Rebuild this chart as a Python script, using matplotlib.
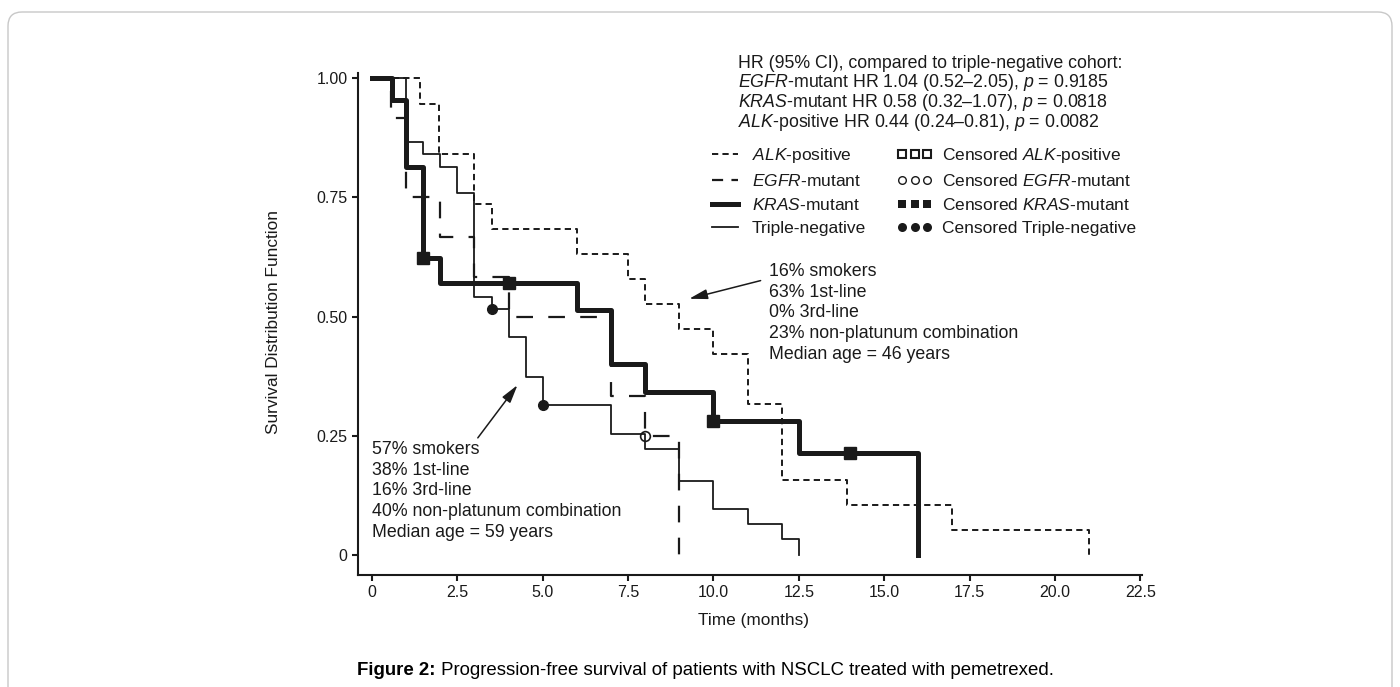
import matplotlib
matplotlib.use('Agg')
import matplotlib.pyplot as plt
from matplotlib.lines import Line2D
from matplotlib.patches import FancyBboxPatch

plt.rcParams['font.family'] = ['Liberation Sans', 'DejaVu Sans']
plt.rcParams['mathtext.fontset'] = 'custom'
plt.rcParams['mathtext.rm'] = 'Liberation Sans'
plt.rcParams['mathtext.it'] = 'Liberation Sans:italic'
plt.rcParams['mathtext.bf'] = 'Liberation Sans:bold'
plt.rcParams['lines.scale_dashes'] = False

# survival curves (time in months, survival fraction)
alk_t = [0, 1.4, 1.95, 3.0, 3.5, 6.0, 7.5, 8.0, 9.0, 10.0, 11.0, 12.0, 13.9, 17.0, 21.0]
alk_s = [1.0, 0.947, 0.842, 0.737, 0.684, 0.632, 0.579, 0.526, 0.474, 0.421, 0.316, 0.158, 0.105, 0.053, 0.0]

egfr_t = [0, 0.55, 1.0, 2.0, 3.0, 4.0, 7.0, 8.0, 9.0]
egfr_s = [1.0, 0.917, 0.75, 0.667, 0.583, 0.5, 0.333, 0.25, 0.0]
egfr_cens_t = [8.0]
egfr_cens_s = [0.25]

kras_t = [0, 0.6, 1.0, 1.5, 2.0, 6.0, 7.0, 8.0, 10.0, 12.5, 16.0]
kras_s = [1.0, 0.955, 0.813, 0.623, 0.570, 0.514, 0.400, 0.342, 0.281, 0.214, 0.0]
kras_cens_t = [1.5, 4.0, 10.0, 14.0]
kras_cens_s = [0.623, 0.570, 0.281, 0.214]

tn_t = [0, 1.0, 1.5, 2.0, 2.5, 3.0, 3.5, 4.0, 4.5, 5.0, 7.0, 8.0, 9.0, 10.0, 11.0, 12.0, 12.5]
tn_s = [1.0, 0.866, 0.841, 0.813, 0.759, 0.541, 0.516, 0.457, 0.373, 0.314, 0.254, 0.222, 0.155, 0.097, 0.065, 0.034, 0.0]
tn_cens_t = [3.5, 5.0]
tn_cens_s = [0.516, 0.314]

xticks = [0, 2.5, 5.0, 7.5, 10.0, 12.5, 15.0, 17.5, 20.0, 22.5]
xticklabels = ['0', '2.5', '5.0', '7.5', '10.0', '12.5', '15.0', '17.5', '20.0', '22.5']
yticks = [0, 0.25, 0.5, 0.75, 1.0]
yticklabels = ['0', '0.25', '0.50', '0.75', '1.00']

hr_lines = ["HR (95% CI), compared to triple-negative cohort:",
            "$\\mathit{EGFR}$-mutant HR 1.04 (0.52\u20132.05), $\\mathit{p}$ = 0.9185",
            "$\\mathit{KRAS}$-mutant HR 0.58 (0.32\u20131.07), $\\mathit{p}$ = 0.0818",
            "$\\mathit{ALK}$-positive HR 0.44 (0.24\u20130.81), $\\mathit{p}$ = 0.0082"]
alk_note = "16% smokers\n63% 1st-line\n0% 3rd-line\n23% non-platunum combination\nMedian age = 46 years"
tn_note = "57% smokers\n38% 1st-line\n16% 3rd-line\n40% non-platunum combination\nMedian age = 59 years"

line_labels = ['$\\mathit{ALK}$-positive', '$\\mathit{EGFR}$-mutant', '$\\mathit{KRAS}$-mutant', 'Triple-negative']
cens_labels = ['Censored $\\mathit{ALK}$-positive', 'Censored $\\mathit{EGFR}$-mutant',
               'Censored $\\mathit{KRAS}$-mutant', 'Censored Triple-negative']

ink = '#1a1a1a'
fs = 12.8

fig = plt.figure(figsize=(14, 6.87), dpi=100)
ax = fig.add_axes([358 / 1400, 1 - 575 / 687, (1142 - 358) / 1400, (575 - 73) / 687])

ax.step(alk_t, alk_s, where='post', color=ink, lw=1.4, dashes=(4.5, 3))
ax.step(egfr_t, egfr_s, where='post', color=ink, lw=1.6, dashes=(12, 11))
ax.step(tn_t, tn_s, where='post', color=ink, lw=1.3)
ax.step(kras_t, kras_s, where='post', color=ink, lw=3.6)

ax.plot(kras_cens_t, kras_cens_s, 's', color=ink, ms=8)
ax.plot(tn_cens_t, tn_cens_s, 'o', color=ink, ms=7)
ax.plot(egfr_cens_t, egfr_cens_s, 'o', mfc='none', mec=ink, ms=7, mew=1.2)

ax.set_xlim(-0.41, 22.55)
ax.set_ylim(-0.042, 1.011)
ax.set_xticks(xticks)
ax.set_xticklabels(xticklabels)
ax.set_yticks(yticks)
ax.set_yticklabels(yticklabels)
for s in ['top', 'right']:
    ax.spines[s].set_visible(False)
for s in ['left', 'bottom']:
    ax.spines[s].set_linewidth(1.5)
    ax.spines[s].set_color(ink)
ax.tick_params(direction='out', length=4.5, width=1.5, colors=ink, labelsize=11.5, pad=3)

# annotations with arrows
arrow = dict(arrowstyle='-|>,head_length=1.1,head_width=0.3', color=ink, lw=1.1)
ax.annotate('', xy=(9.21, 0.536), xytext=(11.46, 0.577), arrowprops=arrow)
ax.annotate('', xy=(4.31, 0.361), xytext=(3.05, 0.241), arrowprops=arrow)
ax.text(11.63, 0.612, alk_note, fontsize=fs, color=ink, va='top', ha='left', linespacing=1.28)
ax.text(0.0, 0.239, tn_note, fontsize=fs, color=ink, va='top', ha='left', linespacing=1.28)

for line, yb in zip(hr_lines, [68, 87, 107, 127]):
    fig.text(738 / 1400, 1 - yb / 687, line, fontsize=fs, color=ink, va='baseline', ha='left')

# legends: line styles and censoring marks
line_handles = [
    Line2D([], [], color=ink, lw=1.4, dashes=(4.5, 3)),
    Line2D([], [], color=ink, lw=1.6, dashes=(8, 6)),
    Line2D([], [], color=ink, lw=3.6),
    Line2D([], [], color=ink, lw=1.3),
]
cens_handles = [
    Line2D([], [], ls='none', marker='s', mfc='white', mec=ink, ms=6, mew=1.5),
    Line2D([], [], ls='none', marker='o', mfc='white', mec=ink, ms=5.5, mew=1.0),
    Line2D([], [], ls='none', marker='s', color=ink, ms=6, mew=0),
    Line2D([], [], ls='none', marker='o', color=ink, ms=6.5, mew=0),
]
leg_kw = dict(loc='upper left', frameon=False, fontsize=12.5, borderpad=0, borderaxespad=0,
              labelspacing=0.45, labelcolor=ink)
fig.legend(line_handles, line_labels, bbox_to_anchor=(712 / 1400, 1 - 146 / 687),
           handlelength=1.5, handletextpad=0.8, **leg_kw)
fig.legend(cens_handles, cens_labels, bbox_to_anchor=(897 / 1400, 1 - 146 / 687),
           numpoints=3, handlelength=2.03, handletextpad=0.56, **leg_kw)

fig.text(273 / 1400, 1 - 322 / 687, 'Survival Distribution Function', rotation=90,
         fontsize=12.4, color=ink, ha='center', va='center')
fig.text(754 / 1400, 1 - 621 / 687, 'Time (months)', fontsize=12.4, color=ink, ha='center', va='center')

cap = fig.text(357 / 1400, 1 - 675 / 687, 'Figure 2:', fontsize=13.4, fontweight='bold',
               color='black', ha='left', va='baseline')
ax.annotate(' Progression-free survival of patients with NSCLC treated with pemetrexed.',
            xy=(1, 0), xycoords=cap, va='bottom', ha='left', fontsize=13.4, color='black',
            annotation_clip=False)

frame = FancyBboxPatch((8, -20), 1384, 695, boxstyle='round,pad=0,rounding_size=14',
                       transform=None, fill=False, edgecolor='#c8c8c8', lw=1.0)
fig.add_artist(frame)

fig.savefig('out.png', dpi=100)
